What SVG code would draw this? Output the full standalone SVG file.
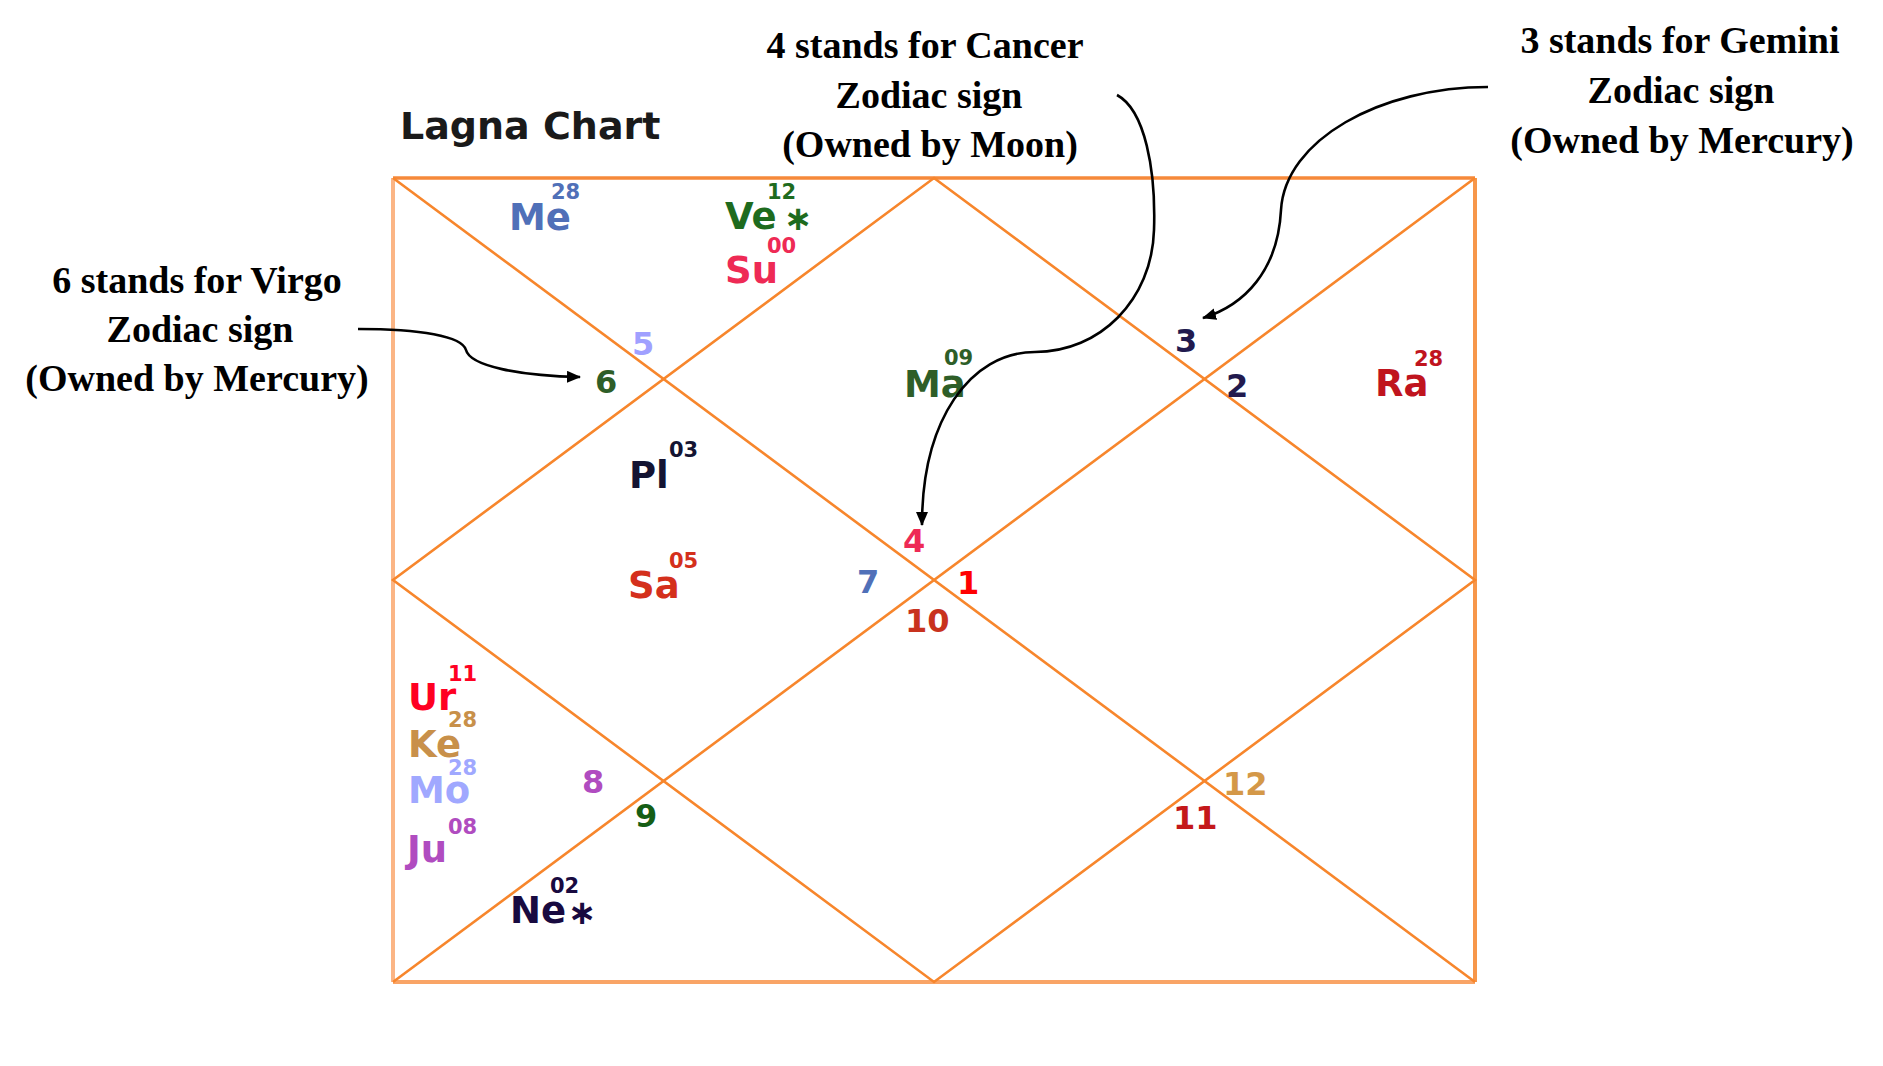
<svg xmlns="http://www.w3.org/2000/svg" width="1883" height="1066" viewBox="0 0 1883 1066">
<defs>
<style>
.ann{font-family:"Liberation Serif","Times New Roman",serif;font-weight:bold;font-size:38px;fill:#000;text-anchor:middle}
.pl{font-family:"DejaVu Sans",Verdana,sans-serif;font-weight:bold;font-size:37px}
.sup{font-family:"DejaVu Sans",Verdana,sans-serif;font-weight:bold;font-size:21px}
.hn{font-family:"DejaVu Sans",Verdana,sans-serif;font-weight:bold;font-size:32px}
.ast{font-family:"DejaVu Sans",sans-serif;font-weight:bold;font-size:34px}
.ttl{font-family:"DejaVu Sans",Verdana,sans-serif;font-weight:bold;font-size:38px;fill:#1a1a1a}
.dg{stroke:#F7862C;stroke-width:2.6;fill:none}
.con{stroke:#000;stroke-width:2.6;fill:none;marker-end:url(#ah)}
</style>
<marker id="ah" markerUnits="userSpaceOnUse" markerWidth="15" markerHeight="12" refX="13" refY="6" orient="auto">
<path d="M0,0 L14,6 L0,12 z" fill="#000"/>
</marker>
</defs>
<rect width="1883" height="1066" fill="#fff"/>

<g id="chart">
<line x1="393" y1="178" x2="1475" y2="178" stroke="#F6893A" stroke-width="3.5"/>
<line x1="393" y1="178" x2="393" y2="982" stroke="#FBB585" stroke-width="4"/>
<line x1="393" y1="982" x2="1475" y2="982" stroke="#F9A466" stroke-width="4"/>
<line x1="1475" y1="178" x2="1475" y2="982" stroke="#F7974A" stroke-width="4"/>
<line class="dg" x1="393" y1="178" x2="1475" y2="982"/>
<line class="dg" x1="1475" y1="178" x2="393" y2="982"/>
<polygon class="dg" points="934,178 1475,580 934,982 393,580"/>
</g>

<g id="title"><text class="ttl" x="400" y="139">Lagna Chart</text></g>

<g id="houses" class="hn">
<text id="h1" x="957" y="594" fill="#FF0000">1</text>
<text id="h2" x="1226" y="397" fill="#221A4E">2</text>
<text id="h3" x="1175" y="352" fill="#221A4E">3</text>
<text id="h4" x="903" y="552" fill="#EE2A55">4</text>
<text id="h5" x="632" y="355" fill="#A0A0FF">5</text>
<text id="h6" x="595" y="393" fill="#2E5E28">6</text>
<text id="h7" x="857" y="593" fill="#5070B8">7</text>
<text id="h8" x="582" y="793" fill="#B04CC0">8</text>
<text id="h9" x="635" y="827" fill="#155E15">9</text>
<text id="h10" x="905" y="632" fill="#C8321E">10</text>
<text id="h11" x="1173" y="829" fill="#C4181A">11</text>
<text id="h12" x="1223" y="795" fill="#D49848">12</text>
</g>

<g id="planets">
<g id="me" fill="#5070B8"><text class="pl" x="509" y="230">Me</text><text class="sup" x="551" y="199">28</text></g>
<g id="ve" fill="#1E6B1E"><text class="pl" x="725" y="229">Ve</text><text class="ast" x="784" y="230">∗</text><text class="sup" x="767" y="199">12</text></g>
<g id="su" fill="#EE2A55"><text class="pl" x="725" y="283">Su</text><text class="sup" x="767" y="253">00</text></g>
<g id="ma" fill="#2E5E28"><text class="pl" x="904" y="397">Ma</text><text class="sup" x="944" y="365">09</text></g>
<g id="pl" fill="#141432"><text class="pl" x="629" y="488">Pl</text><text class="sup" x="669" y="457">03</text></g>
<g id="sa" fill="#D4301C"><text class="pl" x="628" y="598">Sa</text><text class="sup" x="669" y="568">05</text></g>
<g id="ra" fill="#C0141E"><text class="pl" x="1375" y="396">Ra</text><text class="sup" x="1414" y="366">28</text></g>
<g id="ur" fill="#FF0022"><text class="pl" x="408" y="710">Ur</text><text class="sup" x="448" y="681">11</text></g>
<g id="ke" fill="#C8904A"><text class="pl" x="408" y="757">Ke</text><text class="sup" x="448" y="727">28</text></g>
<g id="mo" fill="#A0A8FF"><text class="pl" x="408" y="803">Mo</text><text class="sup" x="448" y="775">28</text></g>
<g id="ju" fill="#B04CC0"><text class="pl" x="407" y="862">Ju</text><text class="sup" x="448" y="834">08</text></g>
<g id="ne" fill="#180A40"><text class="pl" x="510" y="923">Ne</text><text class="ast" x="568" y="924">∗</text><text class="sup" x="550" y="893">02</text></g>
</g>

<g id="note-virgo" class="ann">
<text x="197" y="293">6 stands for Virgo</text>
<text x="200" y="342">Zodiac sign</text>
<text x="197" y="391">(Owned by Mercury)</text>
</g>
<g id="note-cancer" class="ann">
<text x="925" y="58">4 stands for Cancer</text>
<text x="929" y="108">Zodiac sign</text>
<text x="930" y="157">(Owned by Moon)</text>
</g>
<g id="note-gemini" class="ann">
<text x="1680" y="53">3 stands for Gemini</text>
<text x="1681" y="103">Zodiac sign</text>
<text x="1682" y="153">(Owned by Mercury)</text>
</g>

<g id="connectors">
<path class="con" d="M358,329 C420,329 462,336 466,350 C470,366 520,376 580,377"/>
<path class="con" d="M1117,95 C1145,110 1156,170 1154,230 C1152,300 1100,352 1035,352 C970,352 922,420 922,525"/>
<path class="con" d="M1488,87 C1380,87 1285,140 1281,210 C1278,270 1245,305 1203,318"/>
</g>
</svg>
